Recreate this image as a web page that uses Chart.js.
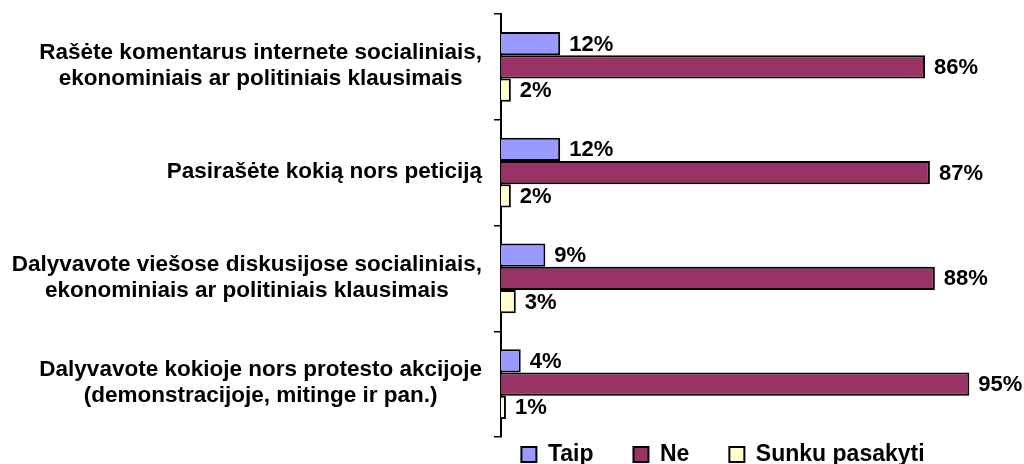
<!DOCTYPE html>
<html lang="lt">
<head>
<meta charset="UTF-8" />
<title>Dalyvavimas</title>
<script src="https://cdn.jsdelivr.net/npm/chart.js@4.4.1/dist/chart.umd.min.js"></script>
<style>
  html, body { margin: 0; padding: 0; background: #fff; }
  .wrap { position: relative; width: 1024px; height: 464px; }
</style>
</head>
<body>
<div class="wrap"><canvas id="chart"></canvas></div>
<script>
// klausimai (kategorijos), eilutės laužomos kaip originale
const categories = [
  ["Rašėte komentarus internete socialiniais,", "ekonominiais ar politiniais klausimais"],
  ["Pasirašėte kokią nors peticiją"],
  ["Dalyvavote viešose diskusijose socialiniais,", "ekonominiais ar politiniais klausimais"],
  ["Dalyvavote kokioje nors protesto akcijoje", "(demonstracijoje, mitinge ir pan.)"],
];
const seriesNames = ["Taip", "Ne", "Sunku pasakyti"];
const taip = [12, 12, 9, 4];
const ne = [86, 87, 88, 95];
const sunku = [2, 2, 3, 1];

const FONT = '"Liberation Sans", Arial, sans-serif';
const colors = ["#9999FF", "#993366", "#FFFFCC"];
const LABEL_W = 479; // vieta kategorijų pavadinimams kairėje

// reikšmių užrašai prie stulpelių galo
const valueLabels = {
  id: "valueLabels",
  afterDatasetsDraw(chart) {
    const ctx = chart.ctx;
    ctx.save();
    ctx.font = "bold 22px " + FONT;
    ctx.fillStyle = "#000";
    ctx.textAlign = "left";
    ctx.textBaseline = "middle";
    chart.data.datasets.forEach((ds, di) => {
      chart.getDatasetMeta(di).data.forEach((bar, i) => {
        ctx.fillText(ds.data[i] + "%", bar.x + 9, bar.y + 1);
      });
    });
    ctx.restore();
  },
};

// kategorijų pavadinimai: blokas lygiuotas į dešinę, eilutės centruotos
const centeredTicks = {
  id: "centeredTicks",
  afterDraw(chart) {
    const y = chart.scales.y;
    const ctx = chart.ctx;
    const tl = y.options.grid.tickLength + y.options.ticks.padding;
    ctx.save();
    ctx.font = "bold 22.5px " + FONT;
    ctx.fillStyle = "#000";
    ctx.textAlign = "center";
    ctx.textBaseline = "middle";
    const lh = 26;
    categories.forEach((lines, i) => {
      const w = Math.max(...lines.map((l) => ctx.measureText(l).width));
      const cx = y.right - tl - w / 2;
      const cy = y.getPixelForTick(i) - 1;
      lines.forEach((l, k) => {
        ctx.fillText(l, cx, cy + (k - (lines.length - 1) / 2) * lh);
      });
    });
    ctx.restore();
  },
};

// legenda po grafiku, kaip originale
const legendPlace = {
  id: "legendPlace",
  afterLayout(chart) {
    const lg = chart.legend;
    const pad = lg.options.labels.padding;
    lg.top = chart.chartArea.bottom + 6 - pad;
    lg.left = chart.chartArea.left - 49;
    lg.right = chart.chartArea.right;
  },
};

new Chart(document.getElementById("chart"), {
  type: "bar",
  data: {
    labels: categories,
    datasets: [
      { label: seriesNames[0], data: taip, backgroundColor: colors[0] },
      { label: seriesNames[1], data: ne, backgroundColor: colors[1] },
      { label: seriesNames[2], data: sunku, backgroundColor: colors[2] },
    ].map((d) => Object.assign(d, { borderColor: "#000", borderWidth: 2, categoryPercentage: 0.66, barPercentage: 1 })),
  },
  options: {
    indexAxis: "y",
    responsive: true,
    maintainAspectRatio: false,
    animation: false,
    layout: { padding: { left: 22, right: 30, top: 14, bottom: 0 } },
    scales: {
      x: { display: false, min: 0, max: 100 },
      y: {
        grid: { display: true, drawOnChartArea: false, drawTicks: true, tickLength: 7, color: "#000", lineWidth: 1.5, offset: true },
        border: { display: true, color: "#000", width: 2 },
        ticks: { display: false, padding: 12 },
        afterFit(scale) { scale.width = LABEL_W; },
      },
    },
    plugins: {
      tooltip: { enabled: false },
      legend: {
        position: "bottom",
        maxHeight: 27,
        labels: { color: "#000", boxWidth: 15, boxHeight: 15, padding: 40, font: { family: FONT, size: 23, weight: "bold" } },
      },
    },
  },
  plugins: [valueLabels, centeredTicks, legendPlace],
});
</script>
</body>
</html>
